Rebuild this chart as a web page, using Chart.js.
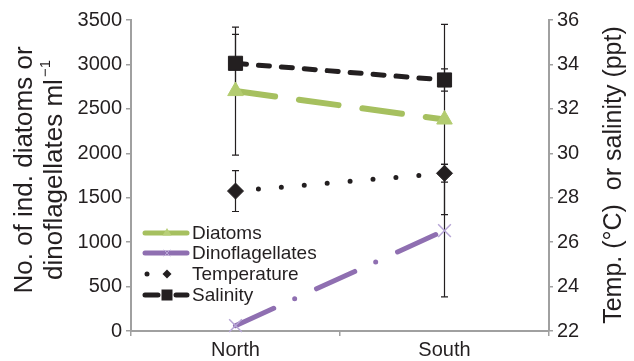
<!DOCTYPE html>
<html>
<head>
<meta charset="utf-8">
<script src="https://cdn.jsdelivr.net/npm/chart.js@4"></script>
<style>
  body { margin: 0; background: #fff; }
  #wrap { width: 634px; height: 361px; }
</style>
</head>
<body>
<div id="wrap"><canvas id="chart" width="634" height="361"></canvas></div>
<script>
// Data
const sites = ['North', 'South'];
const diatoms = [2700, 2380];
const diatomsErr = [720, 1070];
const dinoflagellates = [60, 1130];
const dinoErr = [0, 745];
const temperature = [28.3, 29.1];
const temperatureErr = [0.92, 0.4];
const salinity = [34.05, 33.3];
const salinityErr = [1.3, 0.5];

const green = '#a6c05f';
const purple = '#8f6fb1';
const ink = '#231f20';
const axisGrey = '#a0a0a0';
const FONT = '"Liberation Sans", Arial, sans-serif';

// error bars, drawn under the markers
const errorBars = {
    id: 'errorBars',
    beforeDatasetsDraw(chart) {
        const ctx = chart.ctx;
        ctx.save();
        ctx.strokeStyle = ink;
        ctx.lineWidth = 1.2;
        chart.data.datasets.forEach(ds => {
            const yScale = chart.scales[ds.yAxisID];
            ds.data.forEach((v, j) => {
                const e = ds.errors[j];
                if (!e) return;
                const x = chart.scales.x.getPixelForValue(j);
                const yTop = yScale.getPixelForValue(v + e);
                const yBot = yScale.getPixelForValue(v - e);
                ctx.beginPath();
                ctx.moveTo(x, yTop); ctx.lineTo(x, yBot);
                ctx.moveTo(x - 3.5, yTop); ctx.lineTo(x + 3.5, yTop);
                ctx.moveTo(x - 3.5, yBot); ctx.lineTo(x + 3.5, yBot);
                ctx.stroke();
            });
        });
        ctx.restore();
    }
};

// axis titles and the legend
const extras = {
    id: 'extras',
    afterDraw(chart) {
        const ctx = chart.ctx;
        ctx.save();
        ctx.fillStyle = ink;

        // left title (two lines, second with superscript)
        ctx.save();
        ctx.translate(25, 170);
        ctx.rotate(-Math.PI / 2);
        ctx.font = '26px ' + FONT;
        ctx.textAlign = 'center';
        ctx.textBaseline = 'middle';
        ctx.fillText('No. of ind. diatoms or', 0, 0);
        const main = 'dinoflagellates ml';
        const wMain = ctx.measureText(main).width;
        ctx.font = '15px ' + FONT;
        const wSup = ctx.measureText('\u22121').width;
        const start = -(wMain + wSup + 2) / 2;
        ctx.textAlign = 'left';
        ctx.fillText('\u22121', start + wMain + 2, 30 - 9);
        ctx.font = '26px ' + FONT;
        ctx.fillText(main, start, 30);
        ctx.restore();

        // right title
        ctx.save();
        ctx.translate(614, 175);
        ctx.rotate(-Math.PI / 2);
        ctx.font = '25px ' + FONT;
        ctx.textAlign = 'center';
        ctx.textBaseline = 'middle';
        ctx.fillText('Temp. (\u00b0C)  or salinity (ppt)', 0, 0);
        ctx.restore();

        // legend
        const rows = [
            { label: 'Diatoms', y: 233 },
            { label: 'Dinoflagellates', y: 253 },
            { label: 'Temperature', y: 274 },
            { label: 'Salinity', y: 295 }
        ];
        const x0 = 145, x1 = 187, xm = 167;
        ctx.lineCap = 'round';

        // Diatoms
        ctx.strokeStyle = green; ctx.lineWidth = 5;
        ctx.beginPath(); ctx.moveTo(x0, rows[0].y); ctx.lineTo(x1, rows[0].y); ctx.stroke();
        ctx.fillStyle = '#b8cf78';
        ctx.beginPath();
        ctx.moveTo(xm, rows[0].y - 5); ctx.lineTo(xm + 4.5, rows[0].y + 2.5); ctx.lineTo(xm - 4.5, rows[0].y + 2.5);
        ctx.closePath(); ctx.fill();

        // Dinoflagellates
        ctx.strokeStyle = purple;
        ctx.beginPath(); ctx.moveTo(x0, rows[1].y); ctx.lineTo(x1, rows[1].y); ctx.stroke();
        ctx.strokeStyle = '#b7a6d6'; ctx.lineWidth = 1;
        ctx.beginPath();
        ctx.moveTo(xm - 3, rows[1].y - 3); ctx.lineTo(xm + 3, rows[1].y + 3);
        ctx.moveTo(xm + 3, rows[1].y - 3); ctx.lineTo(xm - 3, rows[1].y + 3);
        ctx.stroke();

        // Temperature
        ctx.fillStyle = ink;
        ctx.beginPath(); ctx.arc(147, rows[2].y, 2.5, 0, Math.PI * 2); ctx.fill();
        ctx.beginPath();
        ctx.moveTo(xm, rows[2].y - 4.5); ctx.lineTo(xm + 4.5, rows[2].y);
        ctx.lineTo(xm, rows[2].y + 4.5); ctx.lineTo(xm - 4.5, rows[2].y);
        ctx.closePath(); ctx.fill();

        // Salinity
        ctx.strokeStyle = ink; ctx.lineWidth = 5;
        ctx.beginPath();
        ctx.moveTo(x0, rows[3].y); ctx.lineTo(158, rows[3].y);
        ctx.moveTo(176, rows[3].y); ctx.lineTo(x1, rows[3].y);
        ctx.stroke();
        ctx.fillRect(xm - 5.5, rows[3].y - 5.5, 11, 11);

        ctx.font = '19px ' + FONT;
        ctx.textAlign = 'left';
        ctx.textBaseline = 'middle';
        rows.forEach(r => ctx.fillText(r.label, 192, r.y + 1));
        ctx.restore();
    }
};

const tickFont = { family: FONT, size: 20 };

new Chart(document.getElementById('chart').getContext('2d'), {
    type: 'line',
    data: {
        labels: sites,
        datasets: [
            {
                label: 'Salinity',
                data: salinity,
                errors: salinityErr,
                yAxisID: 'y1',
                borderColor: ink,
                borderWidth: 5,
                borderDash: [11, 12],
                borderCapStyle: 'round',
                pointStyle: 'rect',
                pointRadius: 10,
                pointBackgroundColor: ink,
                pointBorderColor: ink,
                pointBorderWidth: 1
            },
            {
                label: 'Diatoms',
                data: diatoms,
                errors: diatomsErr,
                yAxisID: 'y',
                borderColor: green,
                borderWidth: 6,
                borderDash: [40, 24],
                borderCapStyle: 'round',
                pointStyle: 'triangle',
                pointRadius: 9,
                pointBackgroundColor: '#b3cc70',
                pointBorderColor: '#b3cc70',
                pointBorderWidth: 1
            },
            {
                label: 'Temperature',
                data: temperature,
                errors: temperatureErr,
                yAxisID: 'y1',
                borderColor: ink,
                borderWidth: 5,
                borderDash: [0, 23],
                borderCapStyle: 'round',
                pointStyle: 'rectRot',
                pointRadius: 8,
                pointBackgroundColor: ink,
                pointBorderColor: ink,
                pointBorderWidth: 1
            },
            {
                label: 'Dinoflagellates',
                data: dinoflagellates,
                errors: dinoErr,
                yAxisID: 'y',
                borderColor: purple,
                borderWidth: 5,
                borderDash: [42, 23, 0, 24],
                borderCapStyle: 'round',
                pointStyle: 'crossRot',
                pointRadius: 9,
                pointBorderColor: '#b7a6d6',
                pointBorderWidth: 1.5
            }
        ]
    },
    options: {
        responsive: false,
        animation: false,
        clip: false,
        layout: { padding: { top: 20 } },
        scales: {
            x: {
                type: 'category',
                offset: true,
                afterFit: s => { s.height = 30; },
                grid: { display: true, drawOnChartArea: false, offset: true, tickLength: 5, color: axisGrey, lineWidth: 1.5 },
                border: { color: axisGrey, width: 2 },
                ticks: { color: ink, font: tickFont, padding: 2 }
            },
            y: {
                position: 'left',
                min: 0,
                max: 3500,
                afterFit: s => { s.width = 131; },
                grid: { drawOnChartArea: false, tickLength: 5, color: axisGrey, lineWidth: 1.5 },
                border: { color: axisGrey, width: 2 },
                ticks: { stepSize: 500, color: ink, font: tickFont, padding: 4, callback: v => String(v) }
            },
            y1: {
                position: 'right',
                min: 22,
                max: 36,
                afterFit: s => { s.width = 85; },
                grid: { drawOnChartArea: false, tickLength: 4, color: axisGrey, lineWidth: 1.5 },
                border: { color: axisGrey, width: 2 },
                ticks: { stepSize: 2, color: ink, font: tickFont, padding: 4 }
            }
        },
        plugins: {
            legend: { display: false },
            tooltip: { enabled: false }
        }
    },
    plugins: [errorBars, extras]
});
</script>
</body>
</html>
